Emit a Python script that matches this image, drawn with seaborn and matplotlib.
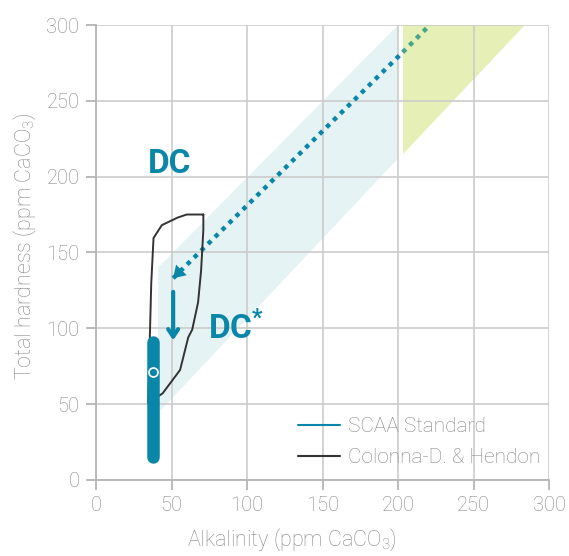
import matplotlib
matplotlib.use("Agg")
import matplotlib.pyplot as plt
from matplotlib.lines import Line2D
import seaborn as sns
import pandas as pd

# ---- data ----
scaa_band_alk = [41, 41, 200, 200]
scaa_band_hard = [44, 140, 300, 212]
green_band_alk = [203, 203, 284]
green_band_hard = [215, 300, 300]

trend_alk_teal = [51, 203]
trend_hard_teal = [133, 282]
trend_alk_green = [203, 219]
trend_hard_green = [282, 298]

cdh_alk = [71, 60, 54, 43.5, 38, 36.5, 34.4, 44, 55.6, 61, 63.6, 67.5, 69.5, 71, 71]
cdh_hard = [175, 175, 173, 168, 159.5, 130, 50.7, 57, 72.5, 94, 99, 117, 138, 165, 175]

target_alk = [37.5, 37.5]
target_hard = [15, 91]
target_point = (37.5, 71)

arrow_alk = 51
arrow_from, arrow_to = 124, 92

legend_labels = ["SCAA Standard", "Colonna-D. & Hendon"]
xticks = [0, 50, 100, 150, 200, 250, 300]
yticks = [0, 50, 100, 150, 200, 250, 300]

TEAL = "#0a86a8"
GREEN_DOT = "#45a68a"
BLACK = "#333333"
GRID = "#cccccc"
TXT = "#858585"
W = "light"

sns.set_theme(style="white")
plt.rcParams["font.family"] = ["Roboto", "DejaVu Sans"]
plt.rcParams["mathtext.fontset"] = "custom"
plt.rcParams["mathtext.rm"] = "Roboto:light"
plt.rcParams["mathtext.bf"] = "Roboto:bold"

fig = plt.figure(figsize=(5.69, 5.56), dpi=100)
ax = fig.add_axes([0.169, 0.137, 0.796, 0.818])

# bands
ax.fill(scaa_band_alk, scaa_band_hard, color="#e5f3f4", lw=0, zorder=0)
ax.fill(green_band_alk, green_band_hard, color="#e6f0b6", lw=0, zorder=0)

# dotted trend line
df_t = pd.DataFrame({"alk": trend_alk_teal, "hard": trend_hard_teal})
sns.lineplot(data=df_t, x="alk", y="hard", ax=ax, color=TEAL, lw=3.2,
             linestyle=(0, (1, 1.2)), sort=False, estimator=None, zorder=3)
df_g = pd.DataFrame({"alk": trend_alk_green, "hard": trend_hard_green})
sns.lineplot(data=df_g, x="alk", y="hard", ax=ax, color=GREEN_DOT, lw=3.2,
             linestyle=(0, (1, 1.2)), sort=False, estimator=None, zorder=3)
ax.annotate("", xy=(trend_alk_teal[0], trend_hard_teal[0]),
            xytext=(trend_alk_teal[0] + 6, trend_hard_teal[0] + 6),
            arrowprops=dict(arrowstyle="-|>,head_length=0.7,head_width=0.45",
                            color=TEAL, lw=0, shrinkA=0, shrinkB=0), zorder=4)

# vertical arrow
ax.annotate("", xy=(arrow_alk, arrow_to), xytext=(arrow_alk, arrow_from),
            arrowprops=dict(arrowstyle="->,head_length=0.45,head_width=0.3",
                            color=TEAL, lw=3, shrinkA=0, shrinkB=0), zorder=4)

# Colonna-Dalton & Hendon outline
df_c = pd.DataFrame({"alk": cdh_alk, "hard": cdh_hard})
sns.lineplot(data=df_c, x="alk", y="hard", ax=ax, color=BLACK, lw=1.4,
             sort=False, estimator=None, zorder=5)

# target bar
ax.plot(target_alk, target_hard, color=TEAL, lw=9, solid_capstyle="round", zorder=6)
ax.plot([target_point[0]], [target_point[1]], marker="o", ms=6.5, mfc=TEAL,
        mec="white", mew=1.2, zorder=7)

# labels
ax.text(48.7, 208, "DC", color=TEAL, fontsize=24, fontweight="bold",
        ha="center", va="center", zorder=8)
ax.text(74, 100, r"DC$^{\mathbf{*}}$", color=TEAL, fontsize=24, fontweight="bold",
        ha="left", va="center", zorder=8)

# axes styling
ax.set_xlim(0, 300)
ax.set_ylim(0, 300)
ax.set_xticks(xticks)
ax.set_yticks(yticks)
ax.grid(True, color=GRID, lw=1.2, zorder=0)
ax.set_axisbelow(True)
for s in ["top", "right"]:
    ax.spines[s].set_visible(False)
for s in ["left", "bottom"]:
    ax.spines[s].set_color("#b5b5b5")
    ax.spines[s].set_linewidth(1.3)
ax.tick_params(axis="both", colors="#b5b5b5", labelcolor=TXT, length=7,
               width=1.3, labelsize=14.5, pad=5, direction="out",
               bottom=True, left=True)
for lab in ax.get_xticklabels() + ax.get_yticklabels():
    lab.set_fontweight(W)
ax.set_xlabel("Alkalinity (ppm CaCO$_3$)", color=TXT, fontsize=15.5,
              fontweight=W, labelpad=8)
ax.set_ylabel("Total hardness (ppm CaCO$_3$)", color=TXT, fontsize=15.5,
              fontweight=W, labelpad=6)
ax.xaxis.label.set_x(0.433)
ax.yaxis.label.set_y(0.514)

handles = [Line2D([], [], color=TEAL, lw=1.5), Line2D([], [], color=BLACK, lw=1.5)]
leg = ax.legend(handles, legend_labels, loc="lower right", frameon=False,
                fontsize=15, handlelength=2.0, handletextpad=0.4,
                labelspacing=0.58, bbox_to_anchor=(1.022, -0.013))
for t in leg.get_texts():
    t.set_color(TXT)
    t.set_fontweight(W)

fig.savefig("out.png", dpi=100)
